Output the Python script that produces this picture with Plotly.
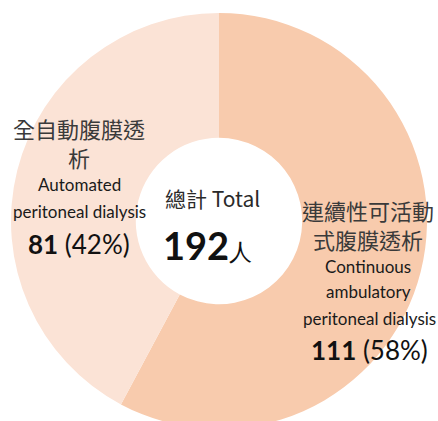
import plotly.graph_objects as go

# data
labels = ["連續性可活動式腹膜透析", "全自動腹膜透析"]
values = [111, 81]
colors = ["#F8CBAD", "#FBE3D6"]
total = sum(values)

W, H = 438, 429
CJK = "Noto Sans CJK TC"
LAT = "Lato, Noto Sans"


def px(x, y):
    return x / W, 1 - y / H


fig = go.Figure()
fig.add_trace(go.Pie(
    labels=labels,
    values=values,
    sort=False,
    direction="clockwise",
    rotation=0,
    hole=0.4,
    marker=dict(colors=colors, line=dict(width=0)),
    textinfo="none",
    hoverinfo="label+value+percent",
    domain=dict(x=[0, 1], y=[0, 416 / H]),
    showlegend=False,
))

pct = [round(v / total * 100) for v in values]

# (text, x, y, font, size, color)
lines = [
    ("全自動腹膜透", 79, 128, CJK, 22, "#3a3a3a"),
    ("析", 79, 157, CJK, 22, "#3a3a3a"),
    ("Automated", 79, 184, LAT, 17, "#1a1a1a"),
    ("peritoneal dialysis", 79, 211, LAT, 17, "#1a1a1a"),
    ("<b>%d</b> (%d%%)" % (values[1], pct[1]), 79, 244, LAT, 26, "#111111"),
    ("連續性可活動", 368, 210, CJK, 22, "#3a3a3a"),
    ("式腹膜透析", 368, 239, CJK, 22, "#3a3a3a"),
    ("Continuous", 368, 266, LAT, 17, "#1a1a1a"),
    ("ambulatory", 368, 291, LAT, 17, "#1a1a1a"),
    ("peritoneal dialysis", 369, 318, LAT, 17, "#1a1a1a"),
    ("<b>%d</b> (%d%%)" % (values[0], pct[0]), 369, 350, LAT, 26, "#111111"),
    ("總計 Total", 212, 198, CJK, 21, "#2a2a2a"),
    ("<b>%d</b><span style='font-size:23px'>人</span>" % total, 207, 245, LAT, 38, "#111111"),
]

for text, x, y, fam, size, col in lines:
    ax, ay = px(x, y)
    fig.add_annotation(
        text=text, x=ax, y=ay, xref="paper", yref="paper",
        xanchor="center", yanchor="middle", showarrow=False,
        font=dict(family=fam, size=size, color=col),
    )

fig.update_layout(
    width=W,
    height=H,
    margin=dict(l=0, r=0, t=0, b=0),
    paper_bgcolor="white",
    plot_bgcolor="white",
)

fig.write_html("out.html", config={"displayModeBar": False},
               post_script="document.body.style.margin='0';document.body.style.overflow='hidden';")
